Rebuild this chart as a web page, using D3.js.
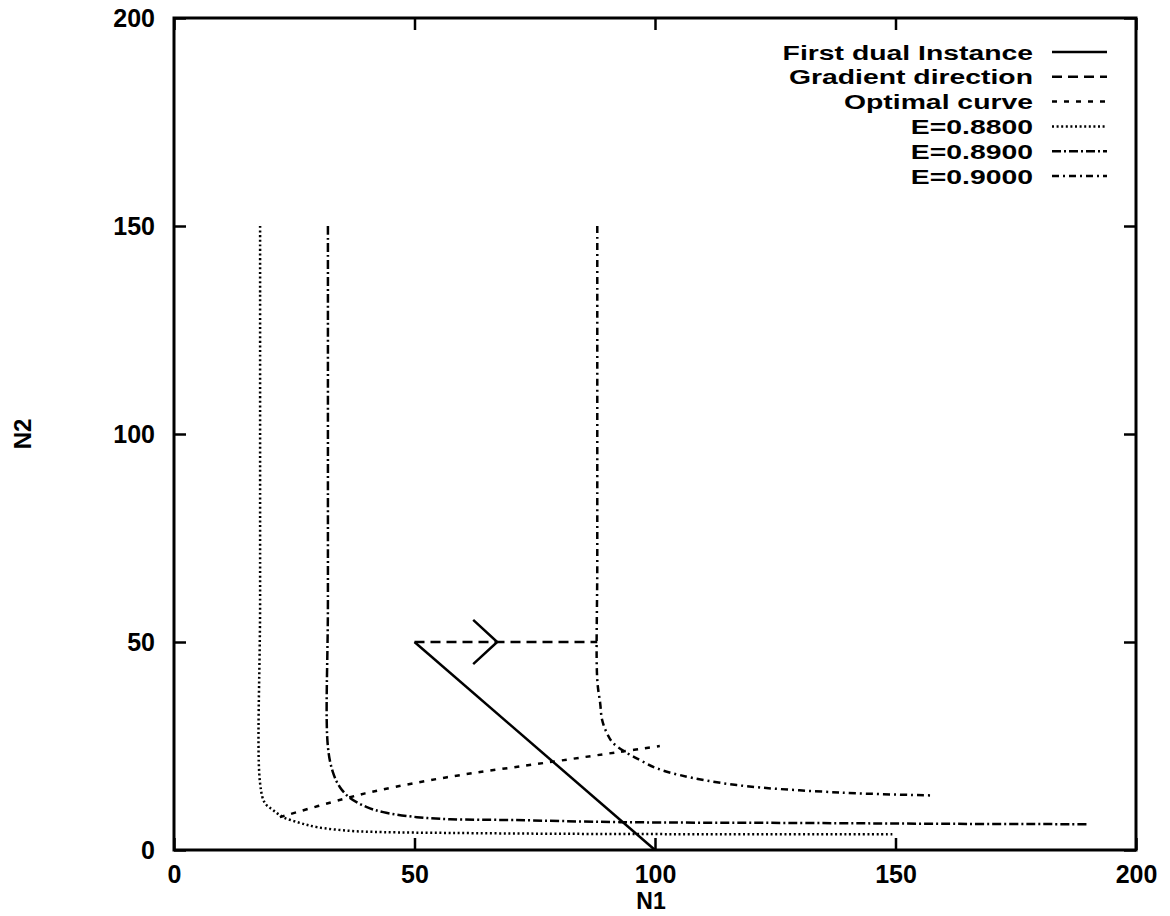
<!DOCTYPE html>
<html>
<head>
<meta charset="utf-8">
<script src="https://cdn.jsdelivr.net/npm/d3@7/dist/d3.min.js"></script>
<style>
  body { margin: 0; background: #fff; }
  text { font-family: "Liberation Sans", Arial, sans-serif; font-weight: bold; fill: #000; }
</style>
</head>
<body>
<svg id="mainSvg" width="1170" height="916"></svg>
<script>
// series as [N1, N2]
var firstDual = [[50, 50], [100, 0]];
var gradientDir = [[50, 50], [88, 50]];
var arrowHead = [[62.2, 55.3], [67.2, 50], [62.2, 44.7]];
var optimalCurve = [[22, 7.9], [36.6, 12.7], [42.8, 14.4], [56.8, 17.5], [78.6, 21.2], [92.7, 23.6], [101, 25]];
var e088 = [[17.9, 150], [17.9, 60], [17.9, 16], [18.9, 11.3], [20.6, 9.6], [22.7, 7.9], [26.2, 6.5], [29.7, 5.5],
            [36.6, 4.6], [43.5, 4.3], [57.4, 4.1], [80, 3.9], [110, 3.8], [149.7, 3.8]];
var e089 = [[32, 150], [32, 60], [32, 24.8], [33.1, 18.5], [34.5, 15.1], [36.6, 12.5], [40.1, 10.3], [43.5, 9.1],
            [50.5, 7.9], [57.4, 7.4], [70.5, 7.2], [92.7, 6.7], [130, 6.5], [160, 6.3], [190.2, 6.2]];
var e090 = [[88, 150], [88, 70], [88, 40.9], [88.6, 35.3], [89, 31.3], [90, 28.1], [91.3, 25.7], [94.2, 23.3],
            [96.9, 21.6], [100, 19.8], [105.2, 18], [117, 15.6], [138.7, 13.8], [158, 13.1]];

var legendLabels = ["First dual Instance", "Gradient direction", "Optimal curve", "E=0.8800", "E=0.8900", "E=0.9000"];
var xTicks = [0, 50, 100, 150, 200];
var yTicks = [0, 50, 100, 150, 200];

var map = {width: 1170, height: 916};
var margin = {left: 174, right: 34, top: 18, bottom: 66};
var dashes = ["none", "10,6", "5,7", "2,2.6", "9,3,2,3", "7,4,2,4"];

var svg = d3.select("#mainSvg");
var x = d3.scaleLinear().domain([0, 200]).range([margin.left, map.width - margin.right]);
var y = d3.scaleLinear().domain([0, 200]).range([map.height - margin.bottom, margin.top]);

var straight = d3.line().x(function(d) { return x(d[0]); }).y(function(d) { return y(d[1]); });
var smooth = d3.line().x(function(d) { return x(d[0]); }).y(function(d) { return y(d[1]); })
  .curve(d3.curveCatmullRom.alpha(0.5));

// mirrored inward ticks, gnuplot style
var tickLen = 12;
svg.append("g").attr("transform", "translate(0," + y(0) + ")")
  .call(d3.axisBottom(x).tickValues(xTicks).tickSizeInner(-tickLen).tickSizeOuter(0).tickPadding(tickLen + 3))
  .call(function(g) { g.select(".domain").remove(); });
svg.append("g").attr("transform", "translate(0," + y(200) + ")")
  .call(d3.axisTop(x).tickValues(xTicks).tickSizeInner(-tickLen).tickSizeOuter(0).tickFormat(""))
  .call(function(g) { g.select(".domain").remove(); });
svg.append("g").attr("transform", "translate(" + x(0) + ",0)")
  .call(d3.axisLeft(y).tickValues(yTicks).tickSizeInner(-tickLen).tickSizeOuter(0).tickPadding(tickLen + 7))
  .call(function(g) { g.select(".domain").remove(); });
svg.append("g").attr("transform", "translate(" + x(200) + ",0)")
  .call(d3.axisRight(y).tickValues(yTicks).tickSizeInner(-tickLen).tickSizeOuter(0).tickFormat(""))
  .call(function(g) { g.select(".domain").remove(); });

svg.selectAll(".tick line").attr("stroke", "#000").attr("stroke-width", 2.5);
svg.selectAll(".tick text").style("font-size", "25px").style("font-family", "Liberation Sans, Arial, sans-serif")
  .style("font-weight", "bold").attr("fill", "#000");

svg.append("rect").attr("x", x(0)).attr("y", y(200)).attr("width", x(200) - x(0)).attr("height", y(0) - y(200))
  .attr("fill", "none").attr("stroke", "#000").attr("stroke-width", 3);

// curves
var series = [
  {pts: firstDual, gen: straight, dash: dashes[0]},
  {pts: gradientDir, gen: straight, dash: dashes[1]},
  {pts: optimalCurve, gen: smooth, dash: dashes[2]},
  {pts: e088, gen: smooth, dash: dashes[3]},
  {pts: e089, gen: smooth, dash: dashes[4]},
  {pts: e090, gen: smooth, dash: dashes[5]}
];
for (var i = 0; i < series.length; i++) {
  svg.append("path").attr("d", series[i].gen(series[i].pts)).attr("fill", "none")
    .attr("stroke", "#000").attr("stroke-width", 2.5).attr("stroke-dasharray", series[i].dash);
}
svg.append("path").attr("d", straight(arrowHead)).attr("fill", "none").attr("stroke", "#000").attr("stroke-width", 2.5);

// legend
var lgX = 1033, lgY = 52, lgStep = 24.8;
for (var k = 0; k < legendLabels.length; k++) {
  var ly = lgY + k * lgStep;
  svg.append("text").attr("transform", "translate(" + lgX + "," + ly + ") scale(1.35,1)")
    .attr("text-anchor", "end").attr("dy", "0.36em").style("font-size", "21px").text(legendLabels[k]);
  svg.append("line").attr("x1", 1052).attr("x2", 1107).attr("y1", ly).attr("y2", ly)
    .attr("stroke", "#000").attr("stroke-width", 2.5).attr("stroke-dasharray", dashes[k]);
}

// axis titles
svg.append("text").attr("x", (x(0) + x(200)) / 2 - 4).attr("y", 909).attr("text-anchor", "middle")
  .style("font-size", "23px").text("N1");
svg.append("text").attr("transform", "translate(22," + y(100) + ") rotate(-90)").attr("text-anchor", "middle")
  .attr("dy", "0.36em").style("font-size", "24px").text("N2");
</script>
</body>
</html>
